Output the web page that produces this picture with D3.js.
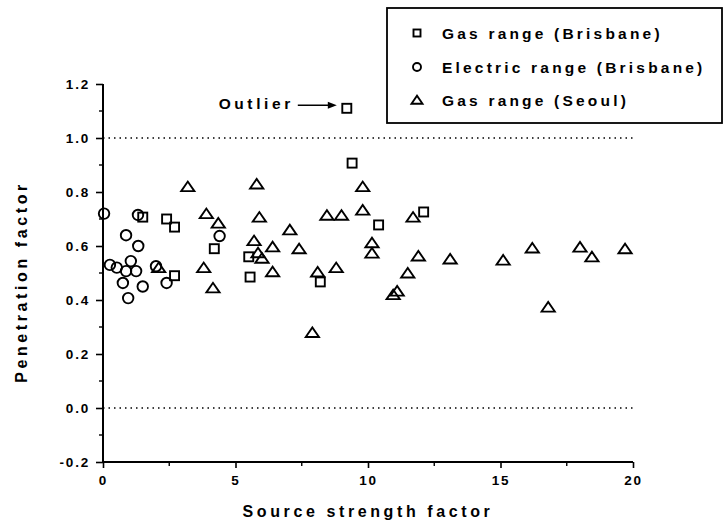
<!DOCTYPE html>
<html><head><meta charset="utf-8">
<script src="https://cdn.jsdelivr.net/npm/d3@7"></script>
<style>
html,body{margin:0;padding:0;background:#fff;}
svg text{font-family:"Liberation Sans",Arial,sans-serif;fill:#000;}
</style></head>
<body><svg id="c" width="726" height="526"></svg>
<script>
// ---- data ----
const gasBrisbane = [
  [9.2,1.11],[9.4,0.907],[10.4,0.678],[12.1,0.726],[1.5,0.707],[2.4,0.70],
  [2.7,0.67],[4.2,0.59],[5.5,0.56],[5.55,0.485],[2.7,0.49],[8.2,0.467]
];
const electricBrisbane = [
  [0.04,0.72],[1.32,0.715],[0.87,0.64],[1.33,0.60],[0.26,0.53],[0.52,0.52],
  [1.05,0.544],[0.87,0.507],[1.25,0.507],[0.75,0.463],[1.5,0.45],[0.95,0.407],
  [2.0,0.525],[2.4,0.463],[4.4,0.637]
];
const gasSeoul = [
  [3.2,0.82],[5.8,0.83],[3.9,0.72],[4.35,0.685],[5.9,0.707],[5.7,0.62],
  [2.1,0.52],[3.8,0.52],[4.15,0.445],[5.85,0.575],[6.0,0.555],[9.8,0.82],
  [8.45,0.714],[9.0,0.714],[9.8,0.733],[11.7,0.707],[7.05,0.66],[6.4,0.597],
  [7.4,0.59],[6.4,0.505],[8.1,0.504],[8.8,0.52],[10.15,0.612],[10.15,0.574],
  [11.9,0.563],[11.5,0.50],[11.1,0.433],[10.95,0.42],[7.9,0.28],[13.1,0.552],
  [15.1,0.548],[16.2,0.593],[18.0,0.596],[18.45,0.56],[19.7,0.59],[16.8,0.374]
];
const outlier = [9.2,1.11];
const refLines = [1.0, 0.0];
const xTicks = [0,5,10,15,20];
const yTicks = [-0.2,0,0.2,0.4,0.6,0.8,1.0,1.2];
const legendLabels = ["Gas range (Brisbane)","Electric range (Brisbane)","Gas range (Seoul)"];
const xTitle = "Source strength factor";
const yTitle = "Penetration factor";

// ---- scales ----
const svg = d3.select("#c");
const x = d3.scaleLinear().domain([0,20]).range([103,633]);
const y = d3.scaleLinear().domain([-0.2,1.2]).range([462,84]);

// reference dotted lines
svg.selectAll("line.ref").data(refLines).join("line")
  .attr("x1",x(0)).attr("x2",x(20)).attr("y1",d=>y(d)).attr("y2",d=>y(d))
  .attr("stroke","#000").attr("stroke-width",1.6).attr("stroke-dasharray","1.5,4");

// axes
const fmtY = d => d3.format(".1f")(d).replace("\u2212","-");
const xAxis = d3.axisBottom(x).tickValues(xTicks).tickFormat(d3.format("d")).tickSize(6).tickPadding(7);
const gx = svg.append("g").attr("transform",`translate(0,${y(-0.2)})`).call(xAxis);
const yAxis = d3.axisLeft(y).tickValues(yTicks).tickFormat(fmtY).tickSize(7).tickPadding(6);
const gy = svg.append("g").attr("transform",`translate(${x(0)},0)`).call(yAxis);
[gx,gy].forEach(g=>{
  g.select(".domain").attr("stroke","#000").attr("stroke-width",2);
  g.selectAll(".tick line").attr("stroke","#000").attr("stroke-width",1.6);
  g.selectAll(".tick text").attr("font-size",13.5).attr("font-weight","bold")
   .style("letter-spacing","1.8px").attr("fill","#000");
});
gx.select(".domain").attr("d",`M${x(0)},0H${x(20)}`);
gy.select(".domain").attr("d",`M0,${y(1.2)}V${y(-0.2)}`);
// minor ticks
const xMinor = d3.range(2.5,20,5);
svg.append("g").selectAll("line").data(xMinor).join("line")
  .attr("x1",d=>x(d)).attr("x2",d=>x(d)).attr("y1",y(-0.2)).attr("y2",y(-0.2)+4)
  .attr("stroke","#000").attr("stroke-width",1.4);
const yMinor = d3.range(-0.1,1.2,0.2);
svg.append("g").selectAll("line").data(yMinor).join("line")
  .attr("x1",x(0)-4).attr("x2",x(0)).attr("y1",d=>y(d)).attr("y2",d=>y(d))
  .attr("stroke","#000").attr("stroke-width",1.4);

// titles
svg.append("text").attr("x",368).attr("y",517).attr("text-anchor","middle")
  .attr("font-size",16).attr("font-weight","bold").style("letter-spacing","3.6px").text(xTitle);
svg.append("text").attr("transform","translate(27,282) rotate(-90)").attr("text-anchor","middle")
  .attr("font-size",16).attr("font-weight","bold").style("letter-spacing","3.6px").text(yTitle);

// markers
const tri = (s)=>`M${-s*0.55},${s*0.38}L${s*0.55},${s*0.38}L0,${-s*0.42}Z`;
const mk = {
  square:(g,s)=>g.append("rect").attr("x",-s/2).attr("y",-s/2).attr("width",s).attr("height",s),
  circle:(g,s)=>g.append("circle").attr("r",s/2),
  triangle:(g,s)=>g.append("path").attr("d",tri(s))
};
function plot(data,type,size){
  const g = svg.append("g");
  data.forEach(d=>{
    const p = g.append("g").attr("transform",`translate(${x(d[0])},${y(d[1])})`);
    mk[type](p,size).attr("fill","none").attr("stroke","#000").attr("stroke-width",1.9);
  });
}
plot(gasSeoul,"triangle",12);
plot(electricBrisbane,"circle",10.5);
plot(gasBrisbane,"square",9);

// outlier annotation
svg.append("text").attr("x",x(outlier[0])-53).attr("y",y(outlier[1])+1)
  .attr("text-anchor","end").attr("font-size",15.5).attr("font-weight","bold")
  .style("letter-spacing","3.6px").text("Outlier");
svg.append("line").attr("x1",x(outlier[0])-49).attr("x2",x(outlier[0])-14)
  .attr("y1",y(outlier[1])-3).attr("y2",y(outlier[1])-3).attr("stroke","#000").attr("stroke-width",1.5);
svg.append("path").attr("d",`M${x(outlier[0])-10},${y(outlier[1])-3}l-9,-3.5v7z`).attr("fill","#000");

// legend
const lg = svg.append("g");
lg.append("rect").attr("x",387).attr("y",8).attr("width",335).attr("height",115)
  .attr("fill","#fff").attr("stroke","#000").attr("stroke-width",1.8);
const ltypes = ["square","circle","triangle"];
const lsizes = [7,8,10];
const ly = [33,67,100];
legendLabels.forEach((t,i)=>{
  const p = lg.append("g").attr("transform",`translate(417,${ly[i]})`);
  mk[ltypes[i]](p,lsizes[i]).attr("fill","none").attr("stroke","#000").attr("stroke-width",1.9);
  lg.append("text").attr("x",442).attr("y",ly[i]+5.5).attr("font-size",15.5).attr("font-weight","bold")
    .style("letter-spacing","3.2px").text(t);
});
</script></body></html>
